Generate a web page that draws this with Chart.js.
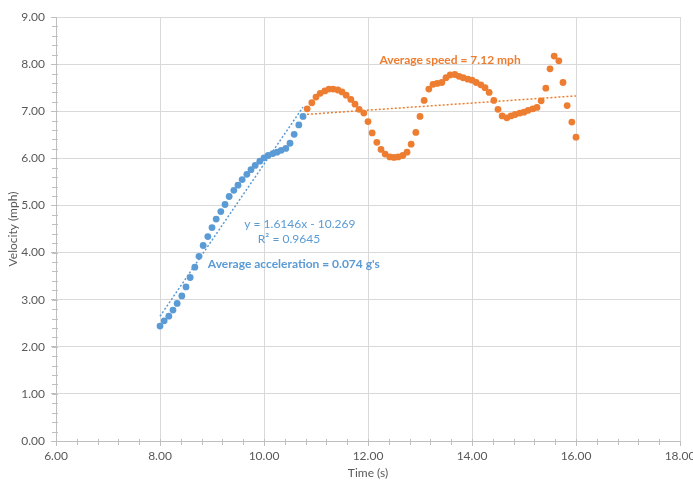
<!DOCTYPE html>
<html>
<head>
<meta charset="utf-8">
<script src="https://cdn.jsdelivr.net/npm/chart.js@4/dist/chart.umd.min.js"></script>
<style>
  html, body { margin: 0; padding: 0; background: #fff; }
  #wrap { width: 693px; height: 483px; }
</style>
</head>
<body>
<div id="wrap"><canvas id="chart" width="693" height="483"></canvas></div>
<script>
// acceleration phase
const accelTime = [8.00, 8.08, 8.17, 8.25, 8.33, 8.42, 8.50, 8.58, 8.67, 8.75, 8.83, 8.92,
  9.00, 9.08, 9.17, 9.25, 9.33, 9.42, 9.50, 9.58, 9.67, 9.75, 9.83, 9.92,
  10.00, 10.08, 10.17, 10.25, 10.33, 10.42, 10.50, 10.58, 10.67, 10.75];
const accelSpeed = [2.44, 2.55, 2.65, 2.78, 2.92, 3.08, 3.27, 3.47, 3.69, 3.92, 4.15, 4.34,
  4.53, 4.71, 4.87, 5.02, 5.19, 5.32, 5.43, 5.55, 5.66, 5.76, 5.85, 5.94,
  6.01, 6.06, 6.10, 6.13, 6.17, 6.21, 6.32, 6.51, 6.71, 6.89];

// cruising phase
const cruiseTime = [10.83, 10.92, 11.00, 11.08, 11.17, 11.25, 11.33, 11.42, 11.50, 11.58, 11.67, 11.75,
  11.83, 11.92, 12.00, 12.08, 12.17, 12.25, 12.33, 12.42, 12.50, 12.58, 12.67, 12.75,
  12.83, 12.92, 13.00, 13.08, 13.17, 13.25, 13.33, 13.42, 13.50, 13.58, 13.67, 13.75,
  13.83, 13.92, 14.00, 14.08, 14.17, 14.25, 14.33, 14.42, 14.50, 14.58, 14.67, 14.75,
  14.83, 14.92, 15.00, 15.08, 15.17, 15.25, 15.33, 15.42, 15.50, 15.58, 15.67, 15.75,
  15.83, 15.92, 16.00];
const cruiseSpeed = [7.05, 7.18, 7.30, 7.38, 7.43, 7.47, 7.47, 7.45, 7.41, 7.34, 7.25, 7.15,
  7.04, 6.96, 6.78, 6.54, 6.34, 6.19, 6.09, 6.03, 6.02, 6.03, 6.06, 6.13,
  6.30, 6.55, 6.89, 7.23, 7.47, 7.57, 7.59, 7.61, 7.71, 7.77, 7.78, 7.74,
  7.71, 7.68, 7.66, 7.61, 7.56, 7.50, 7.40, 7.23, 7.04, 6.90, 6.86, 6.90,
  6.93, 6.96, 6.98, 7.02, 7.05, 7.08, 7.22, 7.49, 7.90, 8.17, 8.07, 7.61,
  7.12, 6.77, 6.45];

const xTicks = [6, 8, 10, 12, 14, 16, 18];
const yTicks = [0, 1, 2, 3, 4, 5, 6, 7, 8, 9];

const BLUE = '#5B9BD5';
const ORANGE = '#ED7D31';
const FONT = 'Lato, "Open Sans", sans-serif';

// Excel trendline for the acceleration part
const accelSlope = 1.6146, accelIntercept = -10.269;

// least squares line for the cruise part
function linFit(xs, ys) {
  const n = xs.length;
  let sx = 0, sy = 0, sxx = 0, sxy = 0;
  for (let i = 0; i < n; i++) {
    sx += xs[i]; sy += ys[i]; sxx += xs[i] * xs[i]; sxy += xs[i] * ys[i];
  }
  const m = (n * sxy - sx * sy) / (n * sxx - sx * sx);
  return { m, b: (sy - m * sx) / n };
}
const cruiseFit = linFit(cruiseTime, cruiseSpeed);

const toPts = (xs, ys) => xs.map((x, i) => ({ x, y: ys[i] }));
const lineEnds = (x0, x1, m, b) => [{ x: x0, y: m * x0 + b }, { x: x1, y: m * x1 + b }];

const accelTrend = lineEnds(accelTime[0], accelTime[accelTime.length - 1], accelSlope, accelIntercept);
const cruiseTrend = lineEnds(accelTime[accelTime.length - 1], cruiseTime[cruiseTime.length - 1], cruiseFit.m, cruiseFit.b);

// minor tick marks + text notes
const extras = {
  id: 'extras',
  afterDraw(chart) {
    const { ctx, scales: { x, y } } = chart;
    ctx.save();
    ctx.strokeStyle = '#bfbfbf';
    ctx.lineWidth = 1;
    for (let v = 0.2; v < 9; v += 0.2) {
      const py = Math.round(y.getPixelForValue(v)) + 0.5;
      ctx.beginPath(); ctx.moveTo(x.left - 4, py); ctx.lineTo(x.left + 2, py); ctx.stroke();
    }
    for (let v = 6.4; v < 18; v += 0.4) {
      const px = Math.round(x.getPixelForValue(v)) + 0.5;
      ctx.beginPath(); ctx.moveTo(px, y.bottom - 2); ctx.lineTo(px, y.bottom + 4); ctx.stroke();
    }

    const note = (txt, xv, yv, color, bold, align) => {
      ctx.font = (bold ? 'bold ' : '') + '12px ' + FONT;
      ctx.fillStyle = color;
      ctx.textAlign = align;
      ctx.textBaseline = 'middle';
      ctx.fillText(txt, x.getPixelForValue(xv), y.getPixelForValue(yv));
    };
    note('y = 1.6146x - 10.269', 10.69, 4.61, BLUE, false, 'center');
    note('R\u00b2 = 0.9645', 10.48, 4.29, BLUE, false, 'center');
    note('Average acceleration = 0.074 g\'s', 8.92, 3.76, BLUE, true, 'left');
    note('Average speed = 7.12 mph', 12.22, 8.09, ORANGE, true, 'left');
    ctx.restore();
  }
};

new Chart(document.getElementById('chart'), {
  type: 'scatter',
  data: {
    datasets: [
      {
        data: toPts(accelTime, accelSpeed),
        backgroundColor: BLUE, borderWidth: 0, pointRadius: 3.4
      },
      {
        data: toPts(cruiseTime, cruiseSpeed),
        backgroundColor: ORANGE, borderWidth: 0, pointRadius: 3.4
      },
      {
        type: 'line', data: accelTrend,
        borderColor: BLUE, borderWidth: 1.5, borderDash: [2, 2], pointRadius: 0
      },
      {
        type: 'line', data: cruiseTrend,
        borderColor: ORANGE, borderWidth: 1.5, borderDash: [2, 2], pointRadius: 0
      }
    ]
  },
  options: {
    responsive: false,
    animation: false,
    layout: { padding: { top: 17, right: 13, left: 0, bottom: 0 } },
    plugins: { legend: { display: false }, tooltip: { enabled: false } },
    scales: {
      x: {
        type: 'linear', min: 6, max: 18,
        afterBuildTicks: s => { s.ticks = xTicks.map(v => ({ value: v })); },
        afterFit: s => { s.height = 42; s.paddingLeft = 0; s.paddingRight = 0; },
        ticks: { color: '#595959', font: { family: FONT, size: 12 }, padding: 3,
                 callback: v => v.toFixed(2) },
        grid: { color: '#d9d9d9', tickColor: '#bfbfbf', tickLength: 5 },
        border: { color: '#bfbfbf' },
        title: { display: true, text: 'Time (s)', color: '#595959',
                 font: { family: FONT, size: 12 }, padding: { top: 2, bottom: 3 } }
      },
      y: {
        type: 'linear', min: 0, max: 9,
        afterBuildTicks: s => { s.ticks = yTicks.map(v => ({ value: v })); },
        afterFit: s => { s.width = 56; s.paddingTop = 0; s.paddingBottom = 0; },
        ticks: { color: '#595959', font: { family: FONT, size: 12 }, padding: 6,
                 callback: v => v.toFixed(2) },
        grid: { color: '#d9d9d9', tickColor: '#bfbfbf', tickLength: 5 },
        border: { color: '#bfbfbf' },
        title: { display: true, text: 'Velocity (mph)', color: '#595959',
                 font: { family: FONT, size: 12 }, padding: { top: 6, bottom: 0 } }
      }
    }
  },
  plugins: [extras]
});
</script>
</body>
</html>
